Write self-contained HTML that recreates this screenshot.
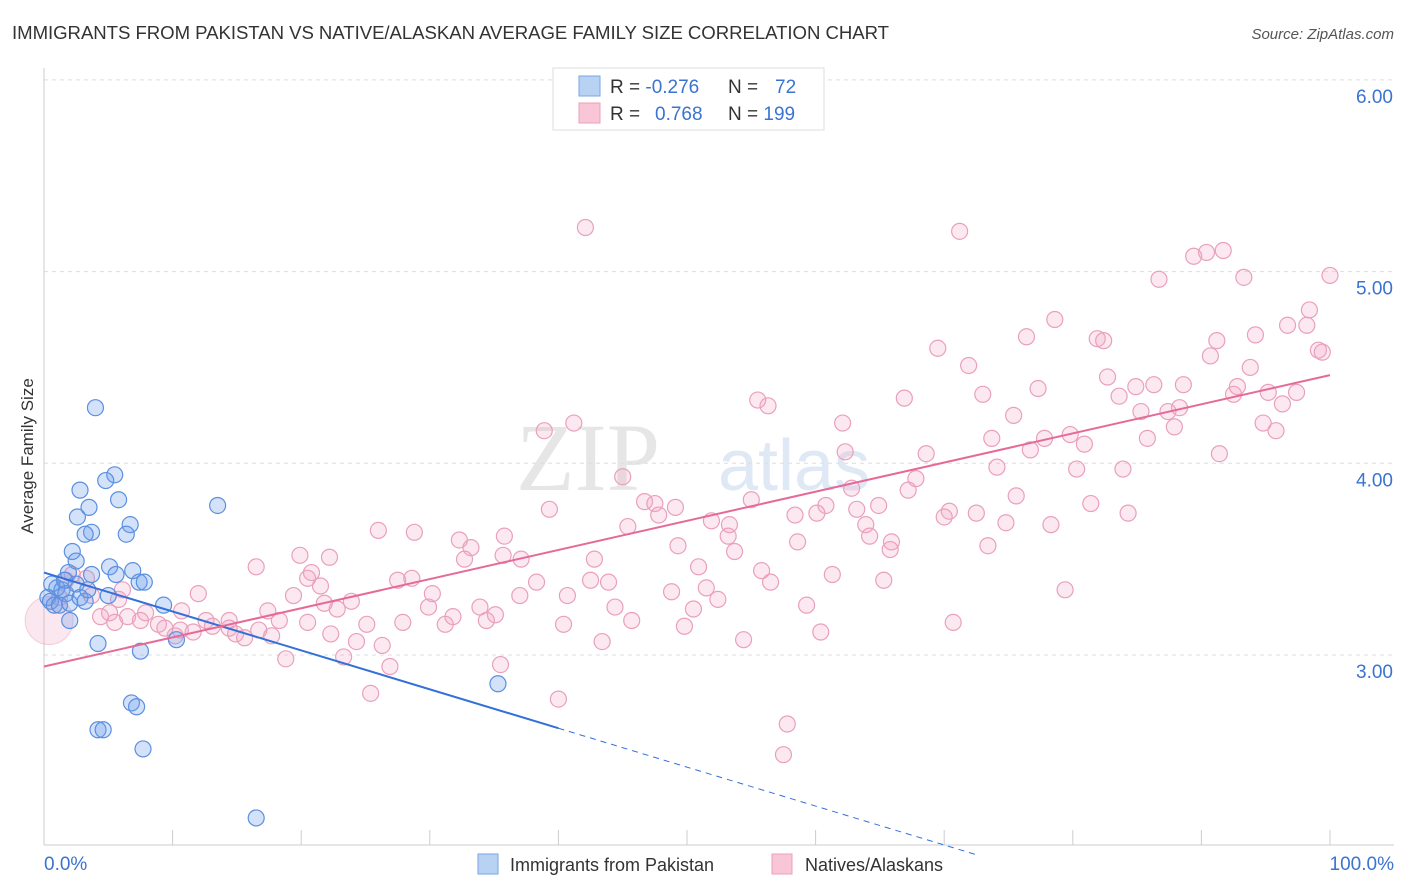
<!DOCTYPE html>
<html><head><meta charset="utf-8">
<style>
body{margin:0;background:#fff;font-family:"Liberation Sans",sans-serif;}
svg{display:block}
</style></head>
<body>
<svg id="chart" width="1406" height="892" viewBox="0 0 1406 892" xmlns="http://www.w3.org/2000/svg">
<text x="12" y="39" font-size="18.6" fill="#333" textLength="877">IMMIGRANTS FROM PAKISTAN VS NATIVE/ALASKAN AVERAGE FAMILY SIZE CORRELATION CHART</text>
<text x="1394" y="39" font-size="15" fill="#555" font-style="italic" text-anchor="end">Source: ZipAtlas.com</text>
<text x="660" y="490" font-size="96" fill="#e6e6e6" font-family="Liberation Serif,serif" text-anchor="end">ZIP</text>
<text x="718" y="490" font-size="72" fill="#dfe8f5">atlas</text>
<text transform="translate(33,456) rotate(-90)" font-size="17" fill="#333" text-anchor="middle">Average Family Size</text>
<g id="grid"></g>
<g id="axes"></g>
<g id="marks"></g>
<g id="trends"></g>
<g>
<rect x="553" y="68" width="271" height="62" fill="#fff" stroke="#ddd"/>
<rect x="579" y="76" width="21" height="20" fill="#b8d2f4" stroke="#7aa6e6"/>
<rect x="579" y="103" width="21" height="20" fill="#f8c6d6" stroke="#eaa0ba"/>
<text x="610" y="93" font-size="19" fill="#333">R = <tspan fill="#3b73d0">-0.276</tspan></text>
<text x="728" y="93" font-size="19" fill="#333">N = <tspan fill="#3b73d0" x="775">72</tspan></text>
<text x="610" y="120" font-size="19" fill="#333">R = <tspan fill="#3b73d0" x="655">0.768</tspan></text>
<text x="728" y="120" font-size="19" fill="#333">N = <tspan fill="#3b73d0">199</tspan></text>
</g>
<g>
<rect x="478" y="854" width="20" height="20" fill="#b8d2f4" stroke="#7aa6e6"/>
<text x="510" y="871" font-size="18" fill="#333">Immigrants from Pakistan</text>
<rect x="772" y="854" width="20" height="20" fill="#f8c6d6" stroke="#eaa0ba"/>
<text x="805" y="871" font-size="18" fill="#333">Natives/Alaskans</text>
</g>
</svg>
<script>
const yTicks=[3,4,5,6];
const yTickLabels=["3.00","4.00","5.00","6.00"];
const xTickLabels=["0.0%","100.0%"];
const blueX=[4.0,5.5,2.8,4.8,5.8,2.6,3.5,3.7,6.7,6.4,3.2,13.5,2.2,2.5,5.1,6.9,5.6,1.9,3.7,7.4,7.8,0.6,1.0,1.4,1.7,0.3,0.5,0.8,1.2,2.0,2.8,3.2,5.0,9.3,2.0,4.2,7.5,10.3,6.8,7.2,4.2,4.6,7.7,16.5,35.3,2.5,1.6,3.4];
const blueY=[4.29,3.94,3.86,3.91,3.81,3.72,3.77,3.64,3.68,3.63,3.63,3.78,3.54,3.49,3.46,3.44,3.42,3.43,3.42,3.38,3.38,3.37,3.35,3.34,3.32,3.30,3.28,3.26,3.26,3.27,3.30,3.28,3.31,3.26,3.18,3.06,3.02,3.08,2.75,2.73,2.61,2.61,2.51,2.15,2.85,3.37,3.39,3.34];
const pinkX=[42.1,71.2,91.7,90.4,89.4,100,86.7,93.3,98.4,78.6,96.7,98.2,76.4,94.2,91.2,81.9,82.4,69.5,90.7,99.1,99.4,71.9,93.8,82.7,84.9,86.3,88.6,77.3,73.0,83.6,92.8,95.2,97.4,66.9,55.5,56.3,88.3,87.4,75.4,85.3,96.3,92.5,41.2,38.9,62.1,87.9,94.8,95.8,73.7,77.8,79.8,85.8,80.9,76.7,62.3,68.6,91.4,74.1,83.9,80.3,45.0,67.8,62.8,67.2,75.6,55.0,46.7,47.5,49.1,60.8,64.9,81.4,47.8,39.3,58.4,63.2,70.4,70.0,72.5,84.3,60.1,51.9,53.3,63.9,74.8,78.3,45.4,26.0,28.8,35.8,53.2,64.2,58.6,32.3,49.3,65.9,73.4,33.2,53.7,65.8,19.9,22.2,35.7,32.7,37.1,16.5,42.8,50.9,20.8,55.8,20.5,61.3,27.5,28.6,42.5,43.9,38.3,65.3,56.5,79.4,21.5,51.5,48.8,12.0,30.2,37.0,40.7,19.4,52.4,23.9,21.8,44.4,59.3,29.9,50.5,33.9,22.8,17.4,10.7,35.1,34.4,31.8,31.2,27.9,45.7,40.4,25.1,18.3,12.6,14.4,7.5,6.5,7.9,5.5,4.4,13.1,14.4,9.4,8.9,10.6,10.2,11.6,14.9,15.6,16.7,17.7,20.5,22.3,49.8,60.4,70.7,24.3,43.4,54.4,26.3,18.8,23.3,26.9,35.5,25.4,40.0,57.8,57.5,1.2,1.7,2.2,3.3,3.7,5.1,5.8,6.1];
const pinkY=[5.23,5.21,5.11,5.10,5.08,4.98,4.96,4.97,4.80,4.75,4.72,4.72,4.66,4.67,4.64,4.65,4.64,4.60,4.56,4.59,4.58,4.51,4.50,4.45,4.40,4.41,4.41,4.39,4.36,4.35,4.40,4.37,4.37,4.34,4.33,4.30,4.29,4.27,4.25,4.27,4.31,4.36,4.21,4.17,4.21,4.19,4.21,4.17,4.13,4.13,4.15,4.13,4.10,4.07,4.06,4.05,4.05,3.98,3.97,3.97,3.93,3.92,3.87,3.86,3.83,3.81,3.80,3.79,3.77,3.78,3.78,3.79,3.73,3.76,3.73,3.76,3.75,3.72,3.74,3.74,3.74,3.70,3.68,3.68,3.69,3.68,3.67,3.65,3.64,3.62,3.62,3.62,3.59,3.60,3.57,3.59,3.57,3.56,3.54,3.55,3.52,3.51,3.52,3.50,3.50,3.46,3.50,3.46,3.43,3.44,3.40,3.42,3.39,3.40,3.39,3.38,3.38,3.39,3.38,3.34,3.36,3.35,3.33,3.32,3.32,3.31,3.31,3.31,3.29,3.28,3.27,3.25,3.26,3.25,3.24,3.25,3.24,3.23,3.23,3.21,3.18,3.20,3.16,3.17,3.18,3.16,3.16,3.18,3.18,3.18,3.18,3.20,3.22,3.17,3.20,3.15,3.14,3.14,3.16,3.13,3.10,3.12,3.11,3.09,3.13,3.10,3.17,3.11,3.15,3.12,3.17,3.07,3.07,3.08,3.05,2.98,2.99,2.94,2.95,2.80,2.77,2.64,2.48,3.30,3.39,3.42,3.40,3.31,3.22,3.29,3.34];
const NS="http://www.w3.org/2000/svg";
const X0=44,X1=1330,Y3=655,PPU=191.7;
function sx(p){return X0+(X1-X0)*p/100;}
function sy(v){return Y3-(v-3)*PPU;}
function mk(tag,attrs,parent){const e=document.createElementNS(NS,tag);for(const k in attrs)e.setAttribute(k,attrs[k]);parent.appendChild(e);return e;}
const grid=document.getElementById('grid'),axes=document.getElementById('axes'),marks=document.getElementById('marks'),trends=document.getElementById('trends');
yTicks.forEach((t,i)=>{
  const l=mk('line',{x1:X0,x2:1394,y1:sy(t),y2:sy(t),stroke:'#ddd','stroke-dasharray':'4,4'},grid);
  
  
  const tx=mk('text',{x:1393,y:sy(t)+23,'font-size':19,fill:'#3b73d0','text-anchor':'end'},axes);
  tx.textContent=yTickLabels[i];
  
  
});
const ax=mk('line',{x1:X0,x2:1394,y1:845,y2:845,stroke:'#ccc'},axes);


const ay=mk('line',{x1:X0,x2:X0,y1:68,y2:845,stroke:'#ccc'},axes);


for(let i=0;i<=10;i++){
  const t=mk('line',{x1:sx(i*10),x2:sx(i*10),y1:830,y2:845,stroke:'#ccc'},axes);
  
  
}
[[0,'start',44],[100,'end',1394]].forEach((d,i)=>{
  const tx=mk('text',{x:d[2],y:870,'font-size':19,fill:'#3b73d0','text-anchor':d[1]},axes);
  tx.textContent=xTickLabels[i];
  
  
});
const big=mk('circle',{cx:sx(0.4),cy:sy(3.18),r:24,fill:'rgba(240,160,190,0.25)',stroke:'rgba(232,144,176,0.4)'},marks);


pinkX.forEach((x,i)=>{
  const c=mk('circle',{cx:sx(x),cy:sy(pinkY[i]),r:8,fill:'rgba(242,165,195,0.25)',stroke:'#eaa0ba','stroke-width':1.2},marks);
  
  
});
blueX.forEach((x,i)=>{
  const c=mk('circle',{cx:sx(x),cy:sy(blueY[i]),r:8,fill:'rgba(110,160,235,0.3)',stroke:'#5b8fe0','stroke-width':1.2},marks);
  
  
});
const bA=3.43,bB=-0.0203;
const pA=2.94,pB=0.0152;
const bt=mk('line',{x1:sx(0),y1:sy(bA),x2:sx(40),y2:sy(bA+bB*40),stroke:'#3370d8','stroke-width':2},trends);


const bd=mk('line',{x1:sx(40),y1:sy(bA+bB*40),x2:sx(72.4),y2:sy(bA+bB*72.4),stroke:'#3370d8','stroke-width':1,'stroke-dasharray':'6,5'},trends);


const pt=mk('line',{x1:sx(0),y1:sy(pA),x2:sx(100),y2:sy(pA+pB*100),stroke:'#e66a98','stroke-width':2},trends);


</script>
</body></html>
